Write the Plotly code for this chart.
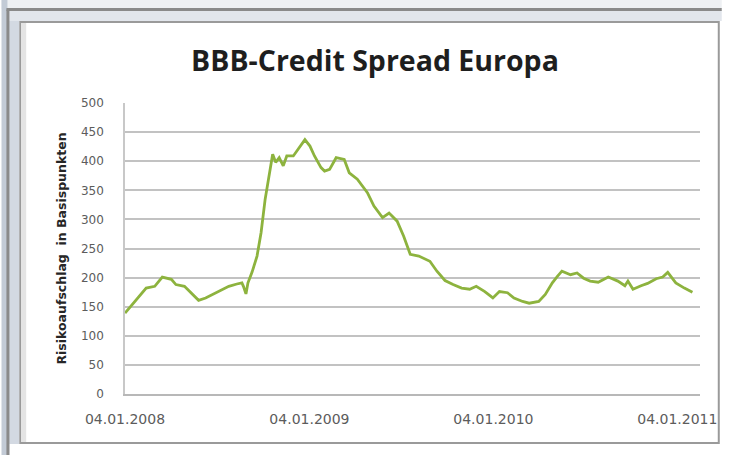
import plotly.graph_objects as go

# ---- data ----
dates = [
    "2008-01-04", "2008-02-02", "2008-02-15", "2008-03-03", "2008-03-18", "2008-04-05",
    "2008-04-14", "2008-05-01", "2008-05-14", "2008-05-29", "2008-06-12", "2008-06-25",
    "2008-07-12", "2008-07-28", "2008-08-13", "2008-08-23", "2008-08-26", "2008-08-31",
    "2008-09-04", "2008-09-12", "2008-09-22", "2008-09-30", "2008-10-08", "2008-10-16",
    "2008-10-23", "2008-10-29", "2008-11-05", "2008-11-13", "2008-11-20", "2008-12-03",
    "2008-12-13", "2008-12-26", "2009-01-05", "2009-01-14", "2009-01-27", "2009-02-03",
    "2009-02-13", "2009-02-19", "2009-02-26", "2009-03-14", "2009-03-24", "2009-04-09",
    "2009-04-29", "2009-05-12", "2009-05-29", "2009-06-11", "2009-06-27", "2009-07-10",
    "2009-07-23", "2009-08-09", "2009-08-31", "2009-09-14", "2009-09-30", "2009-10-16",
    "2009-11-02", "2009-11-18", "2009-12-01", "2009-12-18", "2010-01-03", "2010-01-16",
    "2010-02-01", "2010-02-14", "2010-03-03", "2010-03-16", "2010-04-04", "2010-04-17",
    "2010-05-01", "2010-05-11", "2010-05-20", "2010-06-06", "2010-06-19", "2010-07-02",
    "2010-07-15", "2010-07-31", "2010-08-20", "2010-09-08", "2010-09-22", "2010-09-28",
    "2010-10-08", "2010-10-24", "2010-11-06", "2010-11-23", "2010-12-06", "2010-12-16",
    "2011-01-01", "2011-01-18", "2011-02-03", "2011-02-18",
]
spread_bp = [
    139, 168, 182, 185, 201, 197,
    188, 185, 174, 161, 165, 171,
    179, 185, 189, 191, 185, 172,
    191, 209, 237, 277, 334, 380,
    412, 398, 406, 392, 409, 409,
    421, 437, 426, 409, 389, 383,
    386, 395, 406, 403, 380, 369,
    346, 323, 303, 311, 297, 271,
    240, 237, 228, 211, 195, 188,
    182, 180, 185, 176, 165, 176,
    174, 165, 159, 156, 159, 171,
    191, 202, 211, 205, 208, 199,
    194, 192, 201, 194, 186, 194,
    180, 186, 190, 198, 201, 209,
    191, 182, 175,
]
n = min(len(dates), len(spread_bp))
dates = dates[:n]
spread_bp = spread_bp[:n]

tick_dates = ["2008-01-04", "2009-01-04", "2010-01-04", "2011-01-04"]
tick_labels = ["04.01.2008", "04.01.2009", "04.01.2010", "04.01.2011"]
y_ticks = [0, 50, 100, 150, 200, 250, 300, 350, 400, 450, 500]

title_text = "BBB-Credit Spread Europa"
y_title = "Risikoaufschlag  in Basispunkten"

# ---- figure ----
W, H = 729, 455
L, R, T, B = 125, 22, 103, 61
PW, PH = W - L - R, H - T - B


def px(x):
    return (x - L) / PW


def py(y):
    return (H - B - y) / PH


fig = go.Figure()
fig.add_trace(go.Scatter(
    x=dates, y=spread_bp, mode="lines",
    line=dict(color="#8db33e", width=2.8),
    hoverinfo="skip", showlegend=False,
))

shapes = []
# slide background around the chart
shapes.append(dict(type="rect", xref="paper", yref="paper", layer="below",
                   x0=px(0), x1=px(729), y0=py(9), y1=py(0),
                   fillcolor="#eef0f3", line=dict(width=0)))
shapes.append(dict(type="rect", xref="paper", yref="paper", layer="below",
                   x0=px(0), x1=px(6), y0=py(455), y1=py(0),
                   fillcolor="#c3cbd6", line=dict(width=0)))
shapes.append(dict(type="rect", xref="paper", yref="paper", layer="below",
                   x0=px(7), x1=px(18), y0=py(455), y1=py(10),
                   fillcolor="#d3d9e2", line=dict(width=0)))
shapes.append(dict(type="rect", xref="paper", yref="paper", layer="below",
                   x0=px(7), x1=px(729), y0=py(21), y1=py(10),
                   fillcolor="#e2e6ec", line=dict(width=0)))
shapes.append(dict(type="rect", xref="paper", yref="paper", layer="below",
                   x0=px(8), x1=px(729), y0=py(455), y1=py(444),
                   fillcolor="#ffffff", line=dict(width=0)))
# outer frame lines
shapes.append(dict(type="line", xref="paper", yref="paper",
                   x0=px(5), x1=px(729), y0=py(9.5), y1=py(9.5),
                   line=dict(color="#8a8a8a", width=3)))
shapes.append(dict(type="line", xref="paper", yref="paper",
                   x0=px(6.5), x1=px(6.5), y0=py(9.5), y1=py(455),
                   line=dict(color="#8a8a8a", width=3)))
# inner chart box
shapes.append(dict(type="rect", xref="paper", yref="paper", layer="below",
                   x0=px(19), x1=px(726), y0=py(443), y1=py(22),
                   fillcolor="#ffffff", line=dict(color="#9a9a9a", width=2)))
shapes.append(dict(type="rect", xref="paper", yref="paper", layer="below",
                   x0=px(20), x1=px(25), y0=py(442), y1=py(23),
                   fillcolor="#e4e4e4", line=dict(width=0)))

fig.update_layout(
    width=W, height=H,
    margin=dict(l=L, r=R, t=T, b=B),
    paper_bgcolor="#ffffff", plot_bgcolor="rgba(0,0,0,0)",
    shapes=shapes,
    title=dict(text="<b>" + title_text + "</b>", x=375 / W, xanchor="center",
               y=1 - 61 / H, yanchor="middle",
               font=dict(family="Open Sans", size=28.5, color="#1e1e1e")),
    xaxis=dict(
        type="date", range=["2008-01-04", "2011-02-18"],
        tickvals=tick_dates, ticktext=tick_labels,
        showgrid=False, zeroline=False,
        showline=True, linecolor="#b8b8b8", linewidth=1.6,
        ticks="", ticklabelstandoff=11,
        tickfont=dict(family="DejaVu Sans", size=14, color="#5c5c5c"),
    ),
    yaxis=dict(
        range=[0, 500], tickvals=y_ticks,
        showgrid=True, gridcolor="#c2c2c2", gridwidth=1.7,
        zeroline=False, showline=True, linecolor="#c8c8c8", linewidth=1.5,
        ticks="", ticklabelstandoff=17,
        tickfont=dict(family="DejaVu Sans", size=12, color="#5c5c5c"),
        title=dict(text="<b>" + y_title + "</b>", standoff=12,
                   font=dict(family="DejaVu Sans", size=12.5, color="#262626")),
    ),
)

fig.write_html("out.html", config={"displayModeBar": False},
               post_script="document.body.style.margin='0';")
